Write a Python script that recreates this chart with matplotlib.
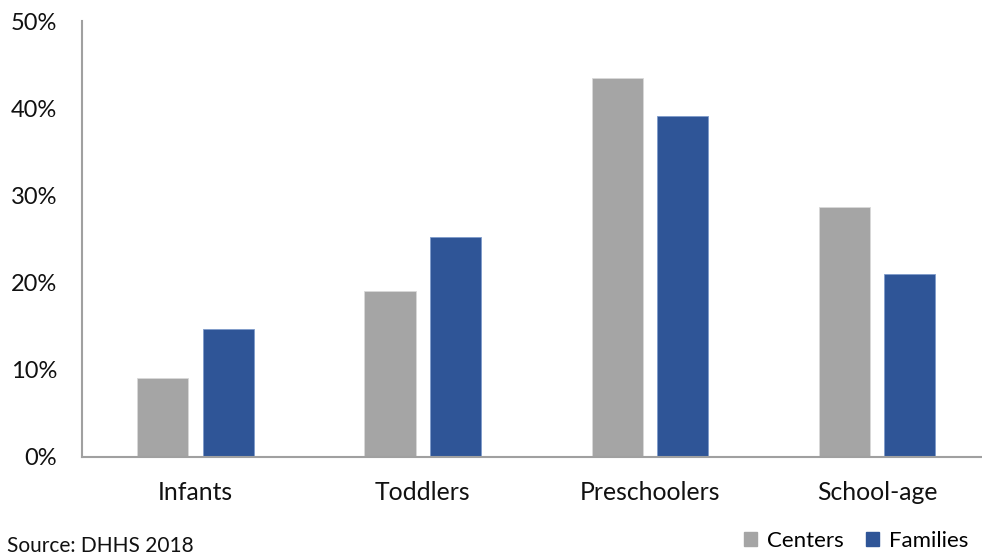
import numpy as np
import matplotlib.pyplot as plt
from matplotlib.patches import Patch

plt.rcParams['font.family'] = ['Lato', 'DejaVu Sans']

# share of children in care by age group
age_groups = ["Infants", "Toddlers", "Preschoolers", "School-age"]
centers = [9.1, 19.0, 43.5, 28.7]
families = [14.7, 25.2, 39.1, 21.0]
y_ticks = [0, 10, 20, 30, 40, 50]

grey = "#A5A5A5"
blue = "#2F5597"

fig = plt.figure(figsize=(9.82, 5.55), dpi=100)
ax = fig.add_axes([0.0835, 0.1766, 0.9252, 0.7847])

x = np.arange(len(age_groups))
w = 0.225
off = 0.144
ax.bar(x - off, centers, w, color=grey, edgecolor="#D9D9D9", linewidth=0.6)
ax.bar(x + off, families, w, color=blue, edgecolor="#7F9BCB", linewidth=0.6)

ax.set_xlim(-0.5, 3.5)
ax.set_ylim(0, 50)
ax.set_yticks(y_ticks)
ax.set_yticklabels([f"{t}%" for t in y_ticks])
ax.set_xticks(x)
ax.set_xticklabels(age_groups)
ax.tick_params(axis="both", length=0, colors="#111111")
ax.tick_params(axis="y", pad=18, labelsize=17)
ax.tick_params(axis="x", pad=17, labelsize=17.8)

for s in ["top", "right"]:
    ax.spines[s].set_visible(False)
for s in ["left", "bottom"]:
    ax.spines[s].set_color("#A0A0A0")
    ax.spines[s].set_linewidth(1.5)

handles = [Patch(color=grey, label="Centers"), Patch(color=blue, label="Families")]
fig.legend(handles=handles, loc="center right", bbox_to_anchor=(1.0, 0.025),
           ncol=2, frameon=False, fontsize=16, handlelength=0.6, handleheight=0.6,
           handletextpad=0.45, columnspacing=1.0, borderaxespad=0.2)

# source note sits at the very bottom edge
fig.text(0.007, 0.005, "Source: DHHS 2018", fontsize=15, va="baseline", ha="left",
         color="#111111")

fig.savefig("out.png", dpi=100)
